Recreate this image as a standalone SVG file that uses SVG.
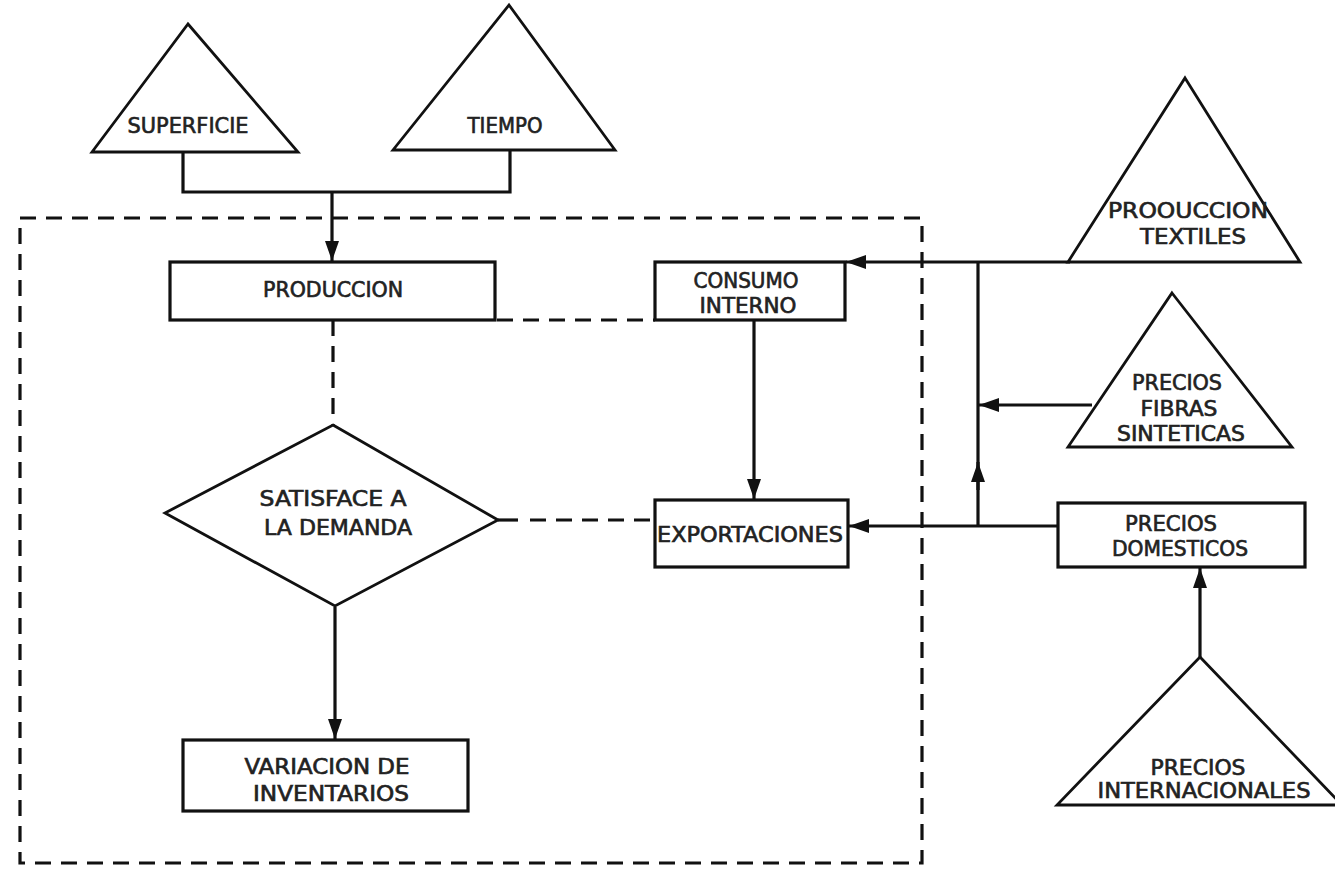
<svg xmlns="http://www.w3.org/2000/svg" width="1335" height="870" viewBox="0 0 1335 870">
<style>
.shape{fill:#fff;stroke:#111;stroke-width:3.2;stroke-linejoin:miter}
.tri{fill:#fff;stroke:#111;stroke-width:2.8;stroke-linejoin:miter}
.line{fill:none;stroke:#111;stroke-width:3.2}
.dash{fill:none;stroke:#111;stroke-width:3.2;stroke-dasharray:16 10}
.lbl{font-family:"Liberation Sans Narrow","DejaVu Sans Condensed","Liberation Sans",sans-serif;font-size:21px;font-weight:normal;fill:#222;stroke:#222;stroke-width:0.6;text-anchor:middle}
</style>
<defs>
<marker id="arr" viewBox="0 0 20 14" refX="20" refY="7" markerWidth="20" markerHeight="14" markerUnits="userSpaceOnUse" orient="auto">
<path d="M0,0 L20,7 L0,14 z" fill="#111"/>
</marker>
</defs>
<rect x="0" y="0" width="1335" height="870" fill="#fff"/>

<g id="boundary">
<rect x="20" y="218" width="902" height="645" class="dash"/>
</g>

<g id="connectors">
<path class="line" d="M183,152 V192 H510 V150"/>
<path class="line" d="M332,192 V261" marker-end="url(#arr)"/>
<path class="dash" d="M497,320 H655"/>
<path class="dash" d="M333,320 V425"/>
<path class="line" d="M498,520 H518"/>
<path class="dash" d="M530,520 H655"/>
<path class="line" d="M335,607 V739" marker-end="url(#arr)"/>
<path class="line" d="M754,320 V499" marker-end="url(#arr)"/>
<path class="line" d="M1070,262 H846" marker-end="url(#arr)"/>
<path class="line" d="M978,262 V526"/>
<path class="line" d="M1058,526 H849" marker-end="url(#arr)"/>
<path class="line" d="M1092,405 H979" marker-end="url(#arr)"/>
<path class="line" d="M978,490 V462" marker-end="url(#arr)"/>
<path class="line" d="M1200,657 V568" marker-end="url(#arr)"/>
</g>

<g id="superficie">
<polygon class="tri" points="188,24 298,152 92,152"/>
<text class="lbl" x="188" y="133" textLength="121" lengthAdjust="spacingAndGlyphs">SUPERFICIE</text>
</g>

<g id="tiempo">
<polygon class="tri" points="509,5 615,150 393,150"/>
<text class="lbl" x="505" y="133" textLength="75" lengthAdjust="spacingAndGlyphs">TIEMPO</text>
</g>

<g id="produccion">
<rect class="shape" x="170" y="262" width="325" height="58"/>
<text class="lbl" x="333" y="297" textLength="140" lengthAdjust="spacingAndGlyphs">PRODUCCION</text>
</g>

<g id="consumo">
<rect class="shape" x="655" y="262" width="190" height="58"/>
<text class="lbl" x="746" y="288" textLength="105" lengthAdjust="spacingAndGlyphs">CONSUMO</text>
<text class="lbl" x="748" y="313" textLength="97" lengthAdjust="spacingAndGlyphs">INTERNO</text>
</g>

<g id="satisface">
<polygon class="tri" points="333,425 498,520 335,606 165,513"/>
<text class="lbl" x="333" y="506" textLength="147" lengthAdjust="spacingAndGlyphs">SATISFACE A</text>
<text class="lbl" x="338" y="535" textLength="148" lengthAdjust="spacingAndGlyphs">LA DEMANDA</text>
</g>

<g id="exportaciones">
<rect class="shape" x="655" y="500" width="193" height="67"/>
<text class="lbl" x="750" y="542" textLength="186" lengthAdjust="spacingAndGlyphs">EXPORTACIONES</text>
</g>

<g id="variacion">
<rect class="shape" x="183" y="740" width="285" height="71"/>
<text class="lbl" x="327" y="774" textLength="165" lengthAdjust="spacingAndGlyphs">VARIACION DE</text>
<text class="lbl" x="331" y="801" textLength="156" lengthAdjust="spacingAndGlyphs">INVENTARIOS</text>
</g>

<g id="produccion-textiles">
<polygon class="tri" points="1185,78 1300,262 1068,262"/>
<text class="lbl" x="1188" y="218" textLength="160" lengthAdjust="spacingAndGlyphs">PROOUCCION</text>
<text class="lbl" x="1193" y="244" textLength="106" lengthAdjust="spacingAndGlyphs">TEXTILES</text>
</g>

<g id="precios-fibras">
<polygon class="tri" points="1172,293 1292,447 1068,447"/>
<text class="lbl" x="1177" y="390" textLength="90" lengthAdjust="spacingAndGlyphs">PRECIOS</text>
<text class="lbl" x="1179" y="416" textLength="77" lengthAdjust="spacingAndGlyphs">FIBRAS</text>
<text class="lbl" x="1181" y="441" textLength="128" lengthAdjust="spacingAndGlyphs">SINTETICAS</text>
</g>

<g id="precios-domesticos">
<rect class="shape" x="1058" y="503" width="247" height="64"/>
<text class="lbl" x="1171" y="531" textLength="92" lengthAdjust="spacingAndGlyphs">PRECIOS</text>
<text class="lbl" x="1180" y="556" textLength="136" lengthAdjust="spacingAndGlyphs">DOMESTICOS</text>
</g>

<g id="precios-internacionales">
<polygon class="tri" points="1200,657 1342,805 1057,805"/>
<text class="lbl" x="1198" y="775" textLength="95" lengthAdjust="spacingAndGlyphs">PRECIOS</text>
<text class="lbl" x="1204" y="798" textLength="213" lengthAdjust="spacingAndGlyphs">INTERNACIONALES</text>
</g>
</svg>
